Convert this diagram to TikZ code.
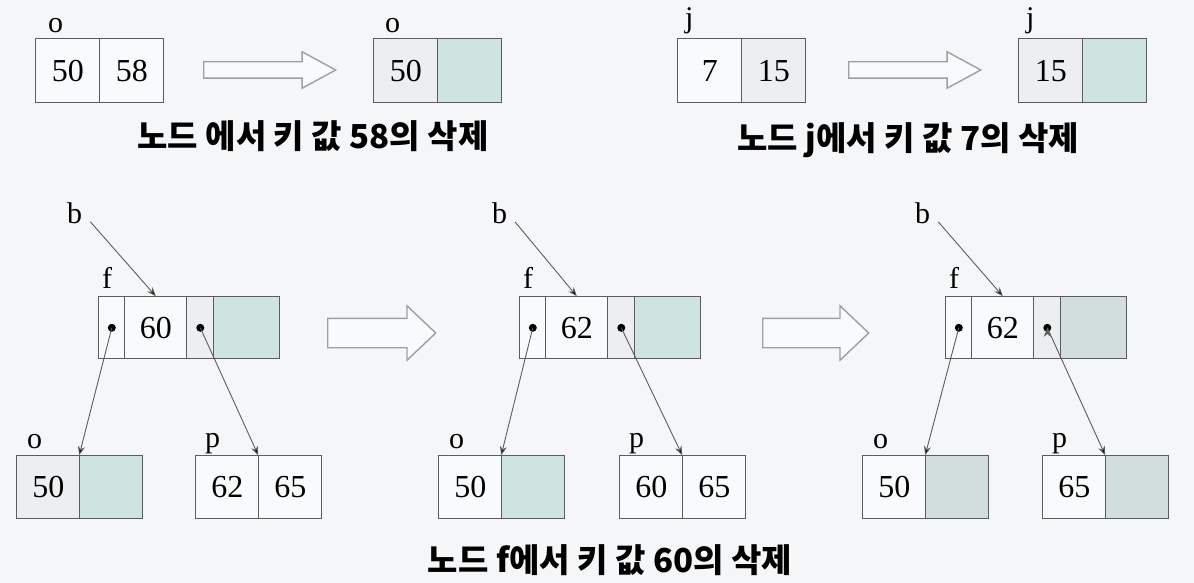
\documentclass[tikz,border=0pt]{standalone}
\usepackage{fontspec}
\setmainfont{Liberation Serif}
\newfontfamily\krfont{Noto Sans CJK KR}
\usetikzlibrary{matrix,arrows.meta,shapes.arrows}

\definecolor{bgcol}{HTML}{F5F6F8}
\definecolor{linecol}{HTML}{5C5C5C}
\definecolor{cellcol}{HTML}{F9FAFB}
\definecolor{greycol}{HTML}{ECEEF0}
\definecolor{tealcol}{HTML}{CDE4E1}
\definecolor{slatecol}{HTML}{D2DEDC}

\tikzset{
  cell/.style={draw=linecol, line width=1.2pt, fill=cellcol, inner sep=0pt, anchor=center,
    minimum height=64pt, minimum width=64pt, font=\fontsize{32}{36}\selectfont},
  record/.style={matrix of nodes, nodes in empty cells, column sep=-1.2pt,
    inner sep=0pt, anchor=north west, nodes={cell}},
  pair/.style={record, nodes={minimum width=63pt, minimum height=63pt}},
  fnode/.style={record, nodes={minimum height=62pt},
    column 1/.style={nodes={minimum width=26pt}},
    column 2/.style={nodes={minimum width=62pt}},
    column 3/.style={nodes={minimum width=27pt, fill=greycol}},
    column 4/.style={nodes={minimum width=66pt, fill=tealcol}}},
  lbl/.style={anchor=base west, inner sep=0pt, font=\fontsize{30}{34}\selectfont},
  ptr/.style={draw=linecol, line width=0.9pt, -{Stealth[length=9pt,width=7pt]}},
  hollow/.style={single arrow, draw=gray!75, line width=1.4pt, fill=cellcol, anchor=tail,
    inner xsep=0pt, single arrow head indent=0pt},
  caption/.style={font=\krfont\bfseries\fontsize{33}{38}\selectfont, inner sep=0pt}
}

\begin{document}
\begin{tikzpicture}[x=1pt,y=-1pt]
  \fill[bgcol] (0,0) rectangle (1194,583);
  \useasboundingbox (0,0) rectangle (1194,583);

  % deleting 58 and 7 from leaves
  \matrix (oOld) [record] at (35,38) { 50 & 58 \\ };
  \matrix (oNew) [record] at (373,38) { |[fill=greycol]| 50 & |[fill=tealcol]| {} \\ };
  \matrix (jOld) [record] at (677,38) { 7 & |[fill=greycol]| 15 \\ };
  \matrix (jNew) [record] at (1018,38) { |[fill=greycol]| 15 & |[fill=tealcol]| {} \\ };
  \node[lbl] (oOldL) at ([shift={(13,-5)}]oOld.north west) {o};
  \node[lbl] (oNewL) at ([shift={(12,-5)}]oNew.north west) {o};
  \node[lbl] (jOldL) at ([shift={(8,-10)}]jOld.north west) {j};
  \node[lbl] (jNewL) at ([shift={(8,-10)}]jNew.north west) {j};
  \node[hollow, minimum height=132pt, inner ysep=7.5pt, single arrow head extend=10pt,
    single arrow tip angle=57] (arrA) at (203,70) {};
  \node[hollow, minimum height=132pt, inner ysep=7.5pt, single arrow head extend=10pt,
    single arrow tip angle=57] (arrB) at (848,70) {};
  \node[caption] (capA) at (313,136) {노드 에서 키 값 58의 삭제};
  \node[caption] (capB) at (908,140) {노드 j에서 키 값 7의 삭제};

  % deleting 60 from f
  \matrix (f1) [fnode] at (98,296) { {} & 60 & {} & {} \\ };
  \matrix (o1) [pair] at (16,455) { |[fill=greycol]| 50 & |[fill=tealcol]| {} \\ };
  \matrix (p1) [pair] at (195,455) { 62 & 65 \\ };
  \matrix (f2) [fnode] at (519,296) { {} & 62 & {} & {} \\ };
  \matrix (o2) [pair] at (438,455) { 50 & |[fill=tealcol]| {} \\ };
  \matrix (p2) [pair] at (619,455) { 60 & 65 \\ };
  \matrix (f3) [fnode] at (945,296) { {} & 62 & {} & |[fill=slatecol]| {} \\ };
  \matrix (o3) [pair] at (862,455) { 50 & |[fill=slatecol]| {} \\ };
  \matrix (p3) [pair] at (1042,455) { 65 & |[fill=slatecol]| {} \\ };

  \node[lbl] (b1) at ([shift={(-31,-73)}]f1.north west) {b};
  \node[lbl] (b2) at ([shift={(-27,-73)}]f2.north west) {b};
  \node[lbl] (b3) at ([shift={(-30,-73)}]f3.north west) {b};
  \node[lbl] (f1L) at ([shift={(4,-8)}]f1.north west) {f};
  \node[lbl] (f2L) at ([shift={(4,-8)}]f2.north west) {f};
  \node[lbl] (f3L) at ([shift={(4,-8)}]f3.north west) {f};
  \node[lbl] (o1L) at ([shift={(11,-7)}]o1.north west) {o};
  \node[lbl] (o2L) at ([shift={(11,-7)}]o2.north west) {o};
  \node[lbl] (o3L) at ([shift={(11,-7)}]o3.north west) {o};
  \node[lbl] (p1L) at ([shift={(10,-8)}]p1.north west) {p};
  \node[lbl] (p2L) at ([shift={(10,-8)}]p2.north west) {p};
  \node[lbl] (p3L) at ([shift={(10,-8)}]p3.north west) {p};

  \fill (f1-1-1) circle (4pt) (f1-1-3) circle (4pt);
  \fill (f2-1-1) circle (4pt) (f2-1-3) circle (4pt);
  \fill (f3-1-1) circle (4pt) (f3-1-3) circle (4pt);
  \path[ptr]
  (b1.east) edge[shorten <=12pt] (f1-1-2.north)
  (f1-1-1.center) edge (o1-1-2.north west)
  (f1-1-3.center) edge (p1-1-2.north west)
  (b2.east) edge[shorten <=12pt] (f2-1-2.north)
  (f2-1-1.center) edge (o2-1-2.north west)
  (f2-1-3.center) edge (p2-1-2.north west)
  (b3.east) edge[shorten <=12pt] (f3-1-2.north)
  (f3-1-1.center) edge (o3-1-2.north west)
  (f3-1-3.center) edge (p3-1-2.north west)
  ;

  \node[hollow, minimum height=108pt, inner ysep=14pt, single arrow head extend=12.5pt,
    single arrow tip angle=87] (arrC) at (327,333) {};
  \node[hollow, minimum height=106pt, inner ysep=14pt, single arrow head extend=12.5pt,
    single arrow tip angle=87] (arrD) at (762,333) {};
  \node[caption] (capC) at (610,560) {노드 f에서 키 값 60의 삭제};
\end{tikzpicture}
\end{document}
